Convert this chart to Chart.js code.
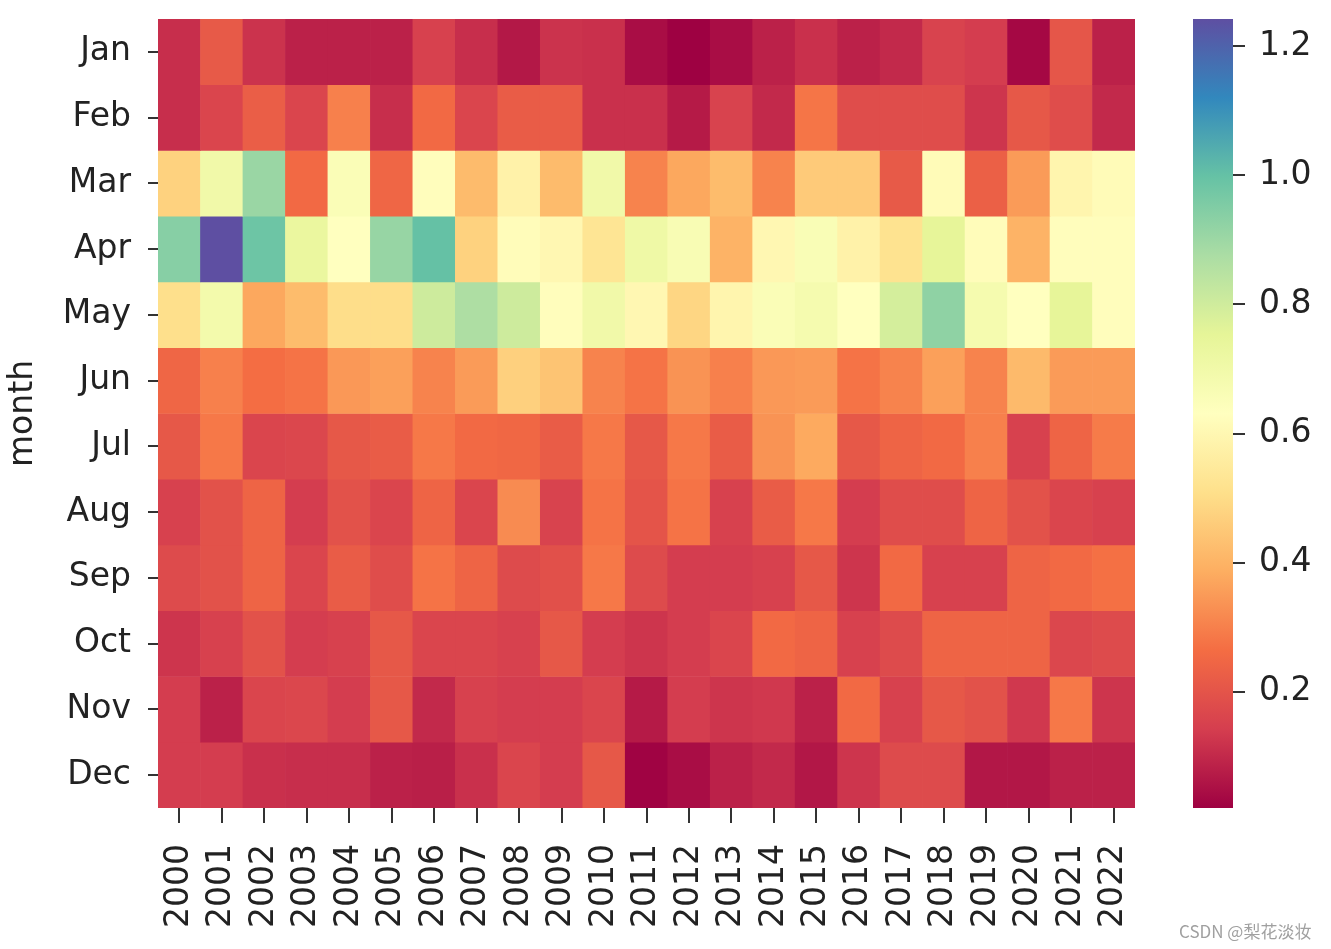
<!DOCTYPE html>
<html>
<head>
<meta charset="utf-8">
<title>month / year heatmap</title>
<script src="https://cdn.jsdelivr.net/npm/chart.js@4.4.1/dist/chart.umd.min.js"></script>
<style>
  body { margin: 0; background: #fff; }
  #wrap { position: relative; width: 1331px; height: 949px; overflow: hidden; }
  #heat { position: absolute; left: 0; top: 0; }
  #cbar { position: absolute; left: 1160px; top: 0; }
  #credit { position: absolute; left: 1179px; top: 918px; font: 17px "Noto Sans CJK SC", "Noto Sans", sans-serif; color: #a0a0a0; white-space: nowrap; }
</style>
</head>
<body>
<div id="wrap">
  <canvas id="heat" width="1180" height="949"></canvas>
  <canvas id="cbar" width="171" height="949"></canvas>
  <div id="credit">CSDN @梨花淡妆</div>
</div>
<script>
// categories
const years = ['2000', '2001', '2002', '2003', '2004', '2005', '2006', '2007', '2008', '2009', '2010', '2011',
               '2012', '2013', '2014', '2015', '2016', '2017', '2018', '2019', '2020', '2021', '2022'];
const months = ['Jan', 'Feb', 'Mar', 'Apr', 'May', 'Jun', 'Jul', 'Aug', 'Sep', 'Oct', 'Nov', 'Dec'];

// values per month, 2000..2022
const jan = [0.11, 0.215, 0.12, 0.085, 0.085, 0.085, 0.15, 0.11, 0.066, 0.12, 0.115, 0.045, 0.02, 0.045, 0.085, 0.115, 0.085, 0.10, 0.155, 0.14, 0.035, 0.205, 0.085];
const feb = [0.11, 0.16, 0.225, 0.16, 0.30, 0.11, 0.255, 0.16, 0.22, 0.22, 0.115, 0.115, 0.07, 0.155, 0.10, 0.28, 0.18, 0.18, 0.18, 0.125, 0.21, 0.18, 0.10];
const mar = [0.475, 0.70, 0.906, 0.255, 0.655, 0.245, 0.625, 0.418, 0.58, 0.418, 0.70, 0.305, 0.375, 0.42, 0.305, 0.455, 0.455, 0.215, 0.615, 0.23, 0.35, 0.59, 0.615];
const apr = [0.94, 1.242, 0.985, 0.73, 0.63, 0.91, 1.0, 0.475, 0.62, 0.60, 0.53, 0.71, 0.665, 0.40, 0.60, 0.66, 0.58, 0.52, 0.75, 0.62, 0.40, 0.625, 0.625];
const may = [0.51, 0.69, 0.375, 0.42, 0.505, 0.505, 0.805, 0.87, 0.805, 0.625, 0.70, 0.60, 0.485, 0.59, 0.655, 0.68, 0.63, 0.79, 0.925, 0.68, 0.63, 0.75, 0.625];
const jun = [0.245, 0.30, 0.265, 0.275, 0.345, 0.36, 0.305, 0.35, 0.47, 0.44, 0.305, 0.275, 0.335, 0.30, 0.345, 0.35, 0.275, 0.305, 0.36, 0.305, 0.415, 0.35, 0.35];
const jul = [0.21, 0.285, 0.16, 0.165, 0.21, 0.22, 0.285, 0.255, 0.25, 0.22, 0.285, 0.21, 0.285, 0.22, 0.335, 0.38, 0.21, 0.24, 0.255, 0.30, 0.15, 0.24, 0.29];
const aug = [0.15, 0.195, 0.24, 0.14, 0.195, 0.16, 0.24, 0.16, 0.32, 0.155, 0.275, 0.20, 0.275, 0.15, 0.22, 0.285, 0.14, 0.18, 0.18, 0.24, 0.195, 0.16, 0.15];
const sep = [0.175, 0.195, 0.24, 0.16, 0.22, 0.18, 0.275, 0.24, 0.175, 0.19, 0.285, 0.175, 0.14, 0.14, 0.15, 0.21, 0.125, 0.255, 0.15, 0.15, 0.24, 0.255, 0.27];
const oct = [0.125, 0.15, 0.195, 0.14, 0.15, 0.21, 0.16, 0.16, 0.15, 0.21, 0.14, 0.125, 0.14, 0.16, 0.255, 0.24, 0.15, 0.175, 0.24, 0.24, 0.24, 0.165, 0.175];
const nov = [0.14, 0.085, 0.16, 0.165, 0.14, 0.21, 0.10, 0.15, 0.14, 0.14, 0.16, 0.07, 0.14, 0.125, 0.13, 0.085, 0.255, 0.15, 0.21, 0.195, 0.13, 0.285, 0.125];
const dec = [0.14, 0.14, 0.115, 0.11, 0.11, 0.085, 0.08, 0.115, 0.16, 0.14, 0.21, 0.025, 0.045, 0.085, 0.10, 0.065, 0.125, 0.175, 0.175, 0.065, 0.065, 0.085, 0.085];

// colorbar tick labels
const cbarTicks = [0.2, 0.4, 0.6, 0.8, 1.0, 1.2];

const rows = [jan, feb, mar, apr, may, jun, jul, aug, sep, oct, nov, dec];
const allValues = rows.flat();
const vmin = Math.min(...allValues);
const vmax = Math.max(...allValues);

// matplotlib "Spectral" colormap stops
const spectralStops = ['#9e0142', '#d53e4f', '#f46d43', '#fdae61', '#fee08b', '#ffffbf',
                       '#e6f598', '#abdda4', '#66c2a5', '#3288bd', '#5e4fa2'];
const stopRgb = spectralStops.map(h => [1, 3, 5].map(k => parseInt(h.substr(k, 2), 16)));

function spectral(t) {
    t = Math.max(0, Math.min(1, t));
    const pos = t * (stopRgb.length - 1);
    const i = Math.min(Math.floor(pos), stopRgb.length - 2);
    const f = pos - i;
    const c = stopRgb[i].map((a, k) => Math.round(a + (stopRgb[i + 1][k] - a) * f));
    return 'rgb(' + c.join(',') + ')';
}

// keep Chart.js from reserving room for half of the end labels
function noEdgePadding(scale) {
    scale.paddingTop = 0;
    scale.paddingBottom = 0;
    scale.paddingLeft = 0;
    scale.paddingRight = 0;
}

Chart.defaults.font.family = 'DejaVu Sans';
Chart.defaults.color = '#222';

const tickFont = { family: 'DejaVu Sans', size: 33 };

// Heatmap: one dataset per month, each cell is a floating bar one row tall
const heatChart = new Chart(document.getElementById('heat'), {
    type: 'bar',
    data: {
        labels: years,
        datasets: rows.map((row, i) => ({
            label: months[i],
            data: row.map(() => [i - 0.5, i + 0.5]),
            backgroundColor: row.map(v => spectral((v - vmin) / (vmax - vmin))),
            borderWidth: 0,
            barPercentage: 1,
            categoryPercentage: 1
        }))
    },
    options: {
        responsive: false,
        animation: false,
        layout: { padding: { left: 0, right: 45, top: 19, bottom: 0 } },
        plugins: {
            legend: { display: false },
            tooltip: { enabled: false }
        },
        scales: {
            x: {
                stacked: true,
                border: { display: false },
                grid: { drawOnChartArea: false, offset: false, tickLength: 15, color: '#333', lineWidth: 2 },
                ticks: { autoSkip: false, minRotation: 90, maxRotation: 90, padding: 21, color: '#222', font: tickFont },
                afterFit: function(scale) {
                    scale.height = 141;
                    noEdgePadding(scale);
                }
            },
            y: {
                stacked: false,
                min: -0.5,
                max: 11.5,
                reverse: true,
                border: { display: false },
                grid: { drawOnChartArea: false, tickLength: 10, color: '#333', lineWidth: 2 },
                afterBuildTicks: function(scale) {
                    scale.ticks = months.map((m, i) => ({ value: i }));
                },
                ticks: {
                    padding: 17,
                    color: '#222',
                    font: tickFont,
                    callback: function(value) {
                        return months[value];
                    }
                },
                title: {
                    display: true,
                    text: 'month',
                    color: '#222',
                    font: tickFont,
                    padding: { top: 4, bottom: 0 }
                },
                afterFit: function(scale) {
                    scale.width = 158;
                    noEdgePadding(scale);
                }
            }
        }
    }
});

// Colorbar: a single floating bar filled with the colormap gradient
const cbarChart = new Chart(document.getElementById('cbar'), {
    type: 'bar',
    data: {
        labels: [''],
        datasets: [{
            data: [[vmin, vmax]],
            backgroundColor: function(context) {
                const area = context.chart.chartArea;
                if (!area) {
                    return spectralStops[0];
                }
                const g = context.chart.ctx.createLinearGradient(0, area.bottom, 0, area.top);
                spectralStops.forEach((c, i) => g.addColorStop(i / (spectralStops.length - 1), c));
                return g;
            },
            borderWidth: 0,
            barPercentage: 1,
            categoryPercentage: 1
        }]
    },
    options: {
        responsive: false,
        animation: false,
        layout: { padding: { left: 33, right: 0, top: 19, bottom: 141 } },
        plugins: {
            legend: { display: false },
            tooltip: { enabled: false }
        },
        scales: {
            x: { display: false },
            y: {
                position: 'right',
                min: vmin,
                max: vmax,
                border: { display: false },
                grid: { drawOnChartArea: false, tickLength: 12, color: '#333', lineWidth: 2 },
                afterBuildTicks: function(scale) {
                    scale.ticks = cbarTicks.map(v => ({ value: v }));
                },
                ticks: {
                    padding: 14,
                    color: '#222',
                    font: tickFont,
                    callback: function(value) {
                        return value.toFixed(1);
                    }
                },
                afterFit: function(scale) {
                    scale.width = 98;
                    noEdgePadding(scale);
                }
            }
        }
    }
});
</script>
</body>
</html>
